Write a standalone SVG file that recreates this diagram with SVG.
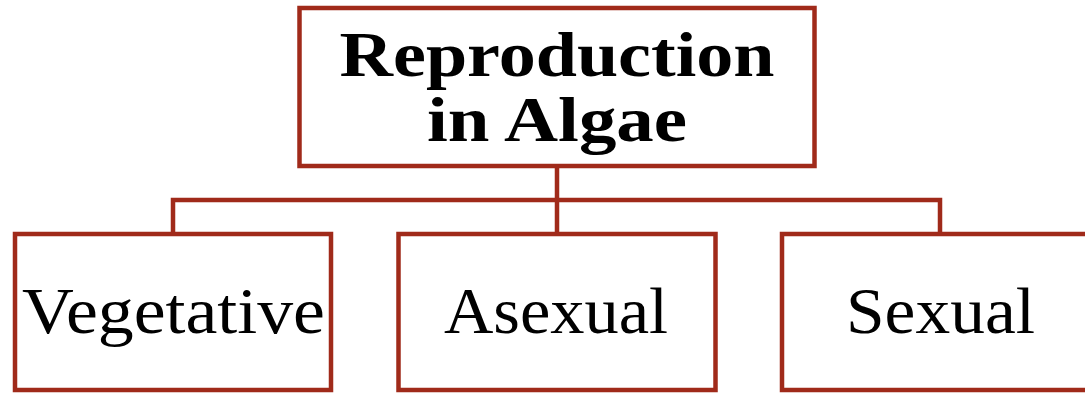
<svg xmlns="http://www.w3.org/2000/svg" width="1085" height="393" viewBox="0 0 1085 393">
<style>
.box{fill:#fff;stroke:#A02A1A;stroke-width:4.5}
.conn{fill:none;stroke:#A02A1A;stroke-width:4.5}
.t{font-family:"Liberation Serif","Times New Roman",serif;fill:#000;text-anchor:middle}
.b{font-weight:bold;font-size:64px}
.r{font-size:66px}
</style>
<rect width="1085" height="393" fill="#fff"/>
<g id="connectors">
<path class="conn" d="M557,166 V200 M173,233 V200 H940 V233 M557,200 V233"/>
</g>
<g id="root">
<rect class="box" x="299.5" y="8" width="515" height="158"/>
<text class="t b" x="557" y="76" textLength="435" lengthAdjust="spacingAndGlyphs">Reproduction</text>
<text class="t b" x="557" y="141" textLength="260" lengthAdjust="spacingAndGlyphs">in Algae</text>
</g>
<g id="vegetative">
<rect class="box" x="15" y="234" width="316" height="156"/>
<text class="t r" x="173.5" y="333" textLength="303" lengthAdjust="spacingAndGlyphs">Vegetative</text>
</g>
<g id="asexual">
<rect class="box" x="398.5" y="234" width="317" height="156"/>
<text class="t r" x="556" y="333" textLength="224" lengthAdjust="spacingAndGlyphs">Asexual</text>
</g>
<g id="sexual">
<rect class="box" x="782" y="234" width="316" height="156"/>
<text class="t r" x="940.5" y="333" textLength="189" lengthAdjust="spacingAndGlyphs">Sexual</text>
</g>
</svg>
